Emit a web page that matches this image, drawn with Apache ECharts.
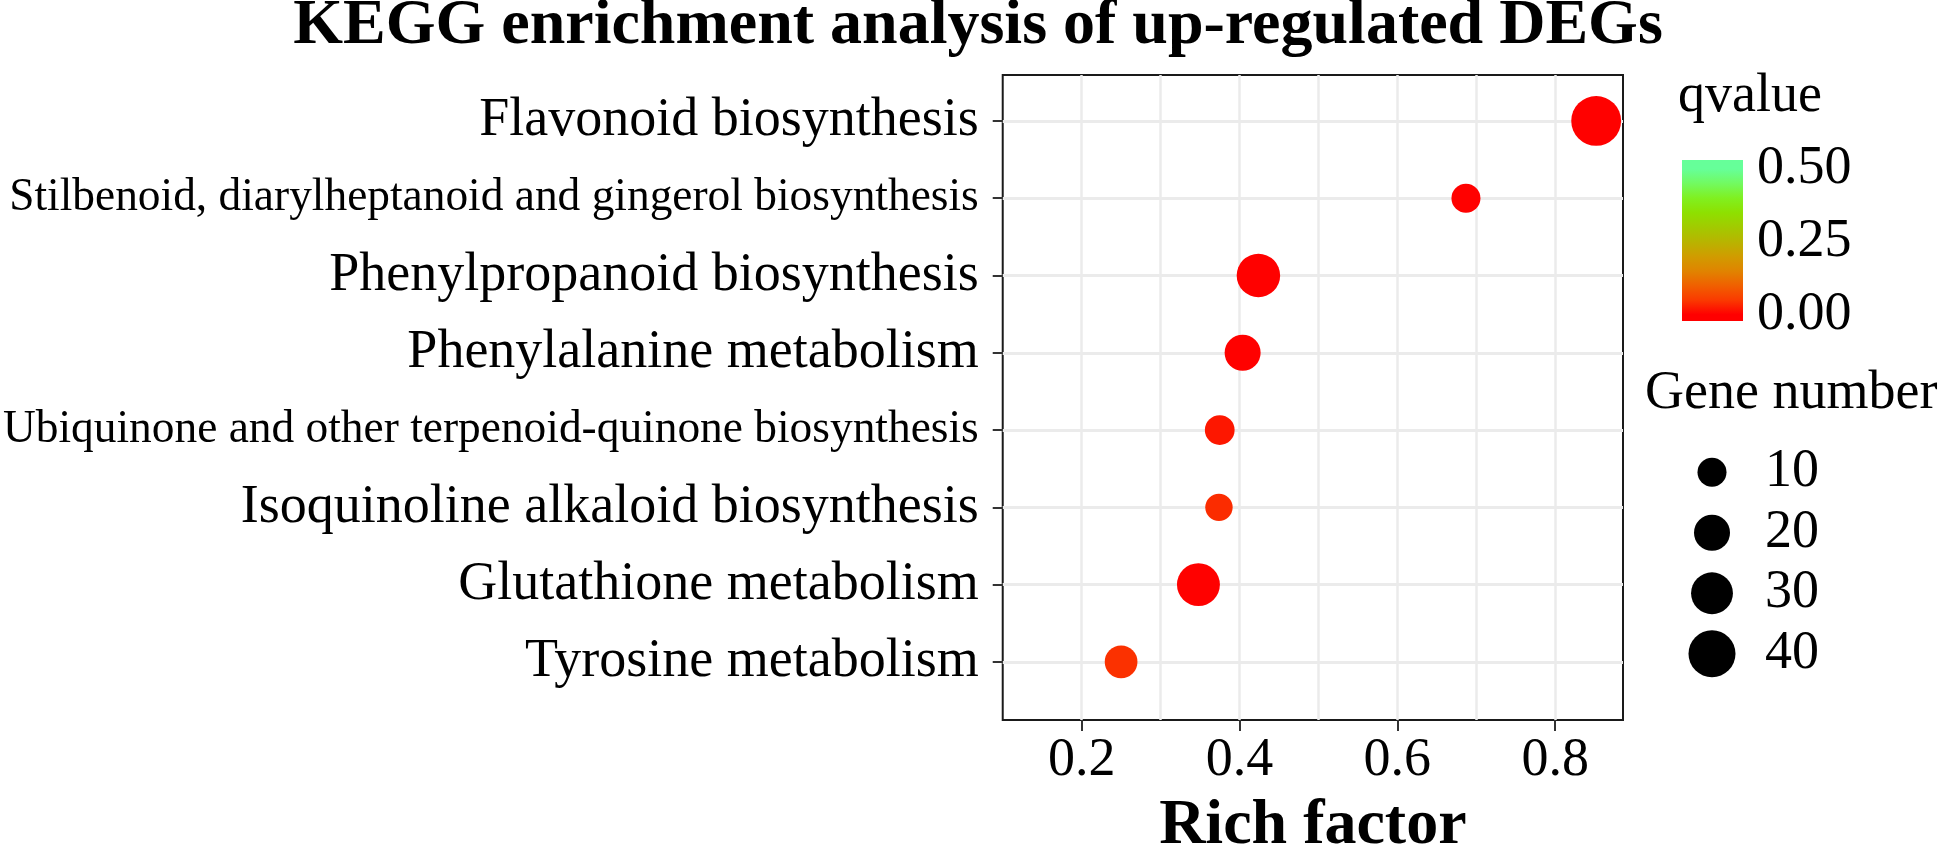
<!DOCTYPE html>
<html><head><meta charset="utf-8">
<script src="https://cdn.jsdelivr.net/npm/echarts@6/dist/echarts.min.js"></script>
<style>html,body{margin:0;padding:0;background:#fff}#c{width:1946px;height:863px}</style>
</head><body><div id="c"></div>
<script>
// ---- data (bottom to top) ----
const pathways = [
  'Tyrosine metabolism',
  'Glutathione metabolism',
  'Isoquinoline alkaloid biosynthesis',
  'Ubiquinone and other terpenoid-quinone biosynthesis',
  'Phenylalanine metabolism',
  'Phenylpropanoid biosynthesis',
  'Stilbenoid, diarylheptanoid and gingerol biosynthesis',
  'Flavonoid biosynthesis'
];
const richFactor = [0.250, 0.348, 0.374, 0.375, 0.404, 0.424, 0.687, 0.852];
const geneNumber = [15, 32, 8, 11, 20, 33, 10, 46];
const qvalue = [0.042, 0.001, 0.038, 0.02, 0.001, 0.001, 0.001, 0.0005];
const xTickLabels = [0.2, 0.4, 0.6, 0.8];
const xGridValues = [0.2, 0.3, 0.4, 0.5, 0.6, 0.7, 0.8];
const qTickLabels = [0, 0.25, 0.5];
const sizeLegendValues = [10, 20, 30, 40];
const qColors = ['#ff0000','#fa3a00','#f06000','#e08400','#d09c00','#b8b400','#a2ca00','#8ee000','#80f020','#72fa60','#66ff99'];

// ---- scales / styles ----
const FONT = 'Liberation Serif';
const sizeOf = n => Math.sqrt(385 + 45.6 * n);
const rowIdx = pathways.map((_, i) => i);
const qMin = 0, qMax = 0.5;
const barMin = -0.022, barMax = 0.531;

const gradStops = qColors.map((c, i) => {
  const q = qMin + (qMax - qMin) * i / (qColors.length - 1);
  return { offset: 1 - (q - barMin) / (barMax - barMin), color: c };
}).reverse();
gradStops.unshift({ offset: 0, color: qColors[qColors.length - 1] });
gradStops.push({ offset: 1, color: qColors[0] });

const chart = echarts.init(document.getElementById('c'), null, { renderer: 'canvas' });
chart.setOption({
  backgroundColor: '#fff',
  animation: false,
  title: [
    { text: 'KEGG enrichment analysis of up-regulated DEGs', left: 978, top: -6, textAlign: 'center', padding: 0,
      textStyle: { fontFamily: FONT, fontWeight: 'bold', fontSize: 64, color: '#000' } },
    { text: 'qvalue', left: 1678, top: 70, padding: 0,
      textStyle: { fontFamily: FONT, fontWeight: 'normal', fontSize: 54, color: '#000' } },
    { text: 'Gene number', left: 1645, top: 367, padding: 0,
      textStyle: { fontFamily: FONT, fontWeight: 'normal', fontSize: 54, color: '#000' } }
  ],
  grid: [
    { left: 1002, top: 75, width: 621, height: 649, show: true, borderColor: '#1a1a1a', borderWidth: 2, backgroundColor: '#fff' },
    { left: 1682, top: 160, width: 61, height: 161 },
    { left: 1680, top: 442, width: 64, height: 242 }
  ],
  visualMap: [{
    type: 'continuous', show: false, seriesIndex: 0, dimension: 3,
    min: qMin, max: qMax, inRange: { color: qColors }
  }],
  xAxis: [
    { gridIndex: 0, type: 'value', min: 0.1, max: 0.886,
      axisLine: { show: false }, axisTick: { show: false, customValues: xGridValues }, axisLabel: { show: false },
      splitLine: { show: true, lineStyle: { color: '#ebebeb', width: 2.5 } } },
    { gridIndex: 0, type: 'value', min: 0.1, max: 0.886, position: 'bottom',
      axisLine: { show: false },
      axisTick: { show: true, customValues: xTickLabels, length: 11, lineStyle: { color: '#333', width: 2 } },
      axisLabel: { show: true, customValues: xTickLabels, formatter: v => v.toFixed(1), fontFamily: FONT, fontSize: 54, color: '#000', margin: 14 },
      splitLine: { show: false },
      name: 'Rich factor', nameLocation: 'middle', nameGap: 74,
      nameTextStyle: { fontFamily: FONT, fontWeight: 'bold', fontSize: 64, color: '#000' } },
    { gridIndex: 1, type: 'value', min: 0, max: 1, show: false },
    { gridIndex: 2, type: 'value', min: -1, max: 1, show: false }
  ],
  yAxis: [
    { gridIndex: 0, type: 'value', min: -0.752, max: 7.594,
      axisLine: { show: false },
      axisTick: { show: true, customValues: rowIdx, length: 10, lineStyle: { color: '#333', width: 2 } },
      axisLabel: { show: true, customValues: rowIdx, margin: 24,
        formatter: v => { const n = pathways[Math.round(v)]; return (n.length > 40 ? '{s|' : '{l|') + n + '}'; },
        rich: { s: { fontFamily: FONT, fontSize: 45.4, color: '#000' }, l: { fontFamily: FONT, fontSize: 54, color: '#000' } } },
      splitLine: { show: true, lineStyle: { color: '#ebebeb', width: 3 } } },
    { gridIndex: 1, type: 'value', min: barMin, max: barMax, position: 'right',
      axisLine: { show: false }, splitLine: { show: false },
      axisTick: { show: true, inside: true, customValues: qTickLabels, length: 12, lineStyle: { color: '#fff', width: 2 } },
      axisLabel: { show: true, customValues: qTickLabels, formatter: v => v.toFixed(2), fontFamily: FONT, fontSize: 54, color: '#000', margin: 14 } },
    { gridIndex: 1, type: 'value', min: barMin, max: barMax, position: 'left',
      axisLine: { show: false }, splitLine: { show: false }, axisLabel: { show: false },
      axisTick: { show: true, inside: true, customValues: qTickLabels, length: 12, lineStyle: { color: '#fff', width: 2 } } },
    { gridIndex: 2, type: 'category', data: sizeLegendValues.map(String), inverse: true, position: 'right',
      axisLine: { show: false }, axisTick: { show: false }, splitLine: { show: false },
      axisLabel: { interval: 0, fontFamily: FONT, fontSize: 54, color: '#000', margin: 21 } }
  ],
  series: [
    { type: 'scatter', xAxisIndex: 0, yAxisIndex: 0, z: 5,
      data: rowIdx.map(i => [richFactor[i], i, geneNumber[i], qvalue[i]]),
      symbolSize: d => sizeOf(d[2]),
      itemStyle: { opacity: 1 } },
    { type: 'custom', xAxisIndex: 2, yAxisIndex: 1, z: 1, silent: true,
      data: [[0, barMin]],
      renderItem: (params, api) => {
        const cs = params.coordSys;
        return { type: 'rect', shape: { x: cs.x, y: cs.y, width: cs.width, height: cs.height },
          style: { fill: new echarts.graphic.LinearGradient(0, 0, 0, 1, gradStops) } };
      } },
    { type: 'scatter', xAxisIndex: 3, yAxisIndex: 3,
      data: sizeLegendValues.map((n, i) => [0, i, n]),
      symbolSize: d => sizeOf(d[2]),
      itemStyle: { color: '#000', opacity: 1 } }
  ]
});
</script>
</body></html>
